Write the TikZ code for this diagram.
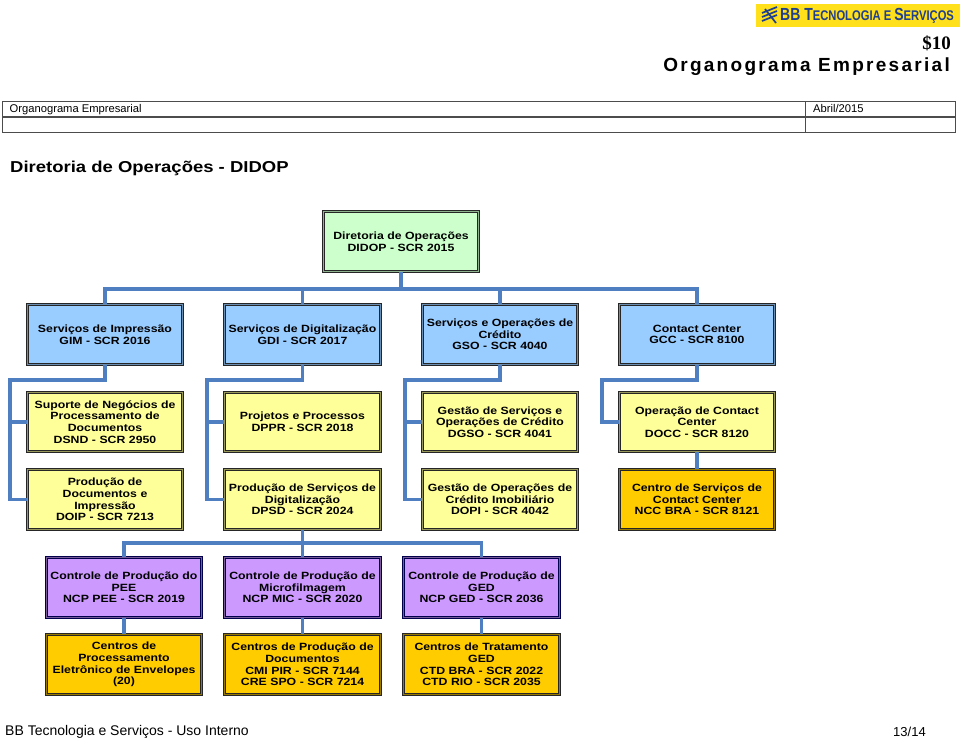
\documentclass[tikz,border=0pt]{standalone}
\usepackage{fontspec}
\setmainfont{Liberation Sans}
\newfontfamily\widefont[FakeStretch=1.17]{Liberation Sans}
\newfontfamily\titlefont[LetterSpace=12]{Liberation Sans}
\newfontfamily\logofont[FakeStretch=0.8]{Liberation Sans}
\newfontfamily\pricefont{Liberation Serif}
\usetikzlibrary{positioning}
\definecolor{linkblue}{HTML}{4F7FC0}
\definecolor{logoblue}{HTML}{1F3F8F}
\definecolor{logoyellow}{HTML}{FFE01A}
\definecolor{topgreen}{HTML}{CCFFCC}
\definecolor{mgrblue}{HTML}{99CCFF}
\definecolor{divyellow}{HTML}{FFFF99}
\definecolor{ctrorange}{HTML}{FFCC00}
\definecolor{ctlpurple}{HTML}{CC99FF}
\tikzset{
    unit/.style = {rectangle, draw=#1, double, double distance=1.1pt, line width=0.85pt, minimum width=155.6pt, minimum height=59.6pt, inner sep=0pt, text width=154pt, align=center, font=\widefont\bfseries\fontsize{10.5}{11.7}\selectfont},
    unit/.default = black!85,
    link/.style = {draw=linkblue, line width=3.4pt}
}

\begin{document}
\begin{tikzpicture}[
    x=1pt, y=-1pt,
    topunit/.style={unit, fill=topgreen, double=topgreen!70!black},
    manager/.style={unit, fill=mgrblue, double=mgrblue!70!black},
    division/.style={unit, fill=divyellow, double=divyellow!60!black},
    center/.style={unit, fill=ctrorange, double=ctrorange!60!black},
    control/.style={unit=black!70!blue, fill=ctlpurple, double=ctlpurple!60!black}
]
    \useasboundingbox (0,0) rectangle (960,741);

    % Logo strip
    \fill[logoyellow] (756,4) rectangle (960,27);
    \node[anchor=west, inner sep=0pt, text=logoblue, font=\logofont\bfseries] (logo) at (780,16) {\fontsize{17.5}{17.5}\selectfont BB T\fontsize{14}{14}\selectfont ECNOLOGIA E \fontsize{17.5}{17.5}\selectfont S\fontsize{14}{14}\selectfont ERVIÇOS};
    \foreach \s in {0,4,8} {
        \draw[logoblue, line width=1.7pt] (762,13+\s) -- (777,7+\s);
    }
    \draw[logoblue, line width=1.7pt] (765,9) -- (776,23);

    % Page title
    \node[anchor=east, inner sep=0pt, font=\fontsize{19}{19}\selectfont\bfseries\pricefont] (amount) at (951,43) {\$10};
    \node[anchor=east, inner sep=0pt, font=\fontsize{19}{19}\selectfont\bfseries\titlefont] (title) at (950,67) {Organograma Empresarial};

    % Header table
    \draw[line width=0.9pt, black!70] (2,101.5) rectangle (955,132);
    \draw[line width=1.2pt, black!70] (2,117) -- (955,117);
    \draw[line width=0.9pt, black!70] (805,101.5) -- (805,132);
    \node[anchor=base west, inner sep=0pt, font=\fontsize{11.2}{12}\selectfont] (doc) at (9.5,113) {Organograma Empresarial};
    \node[anchor=base west, inner sep=0pt, font=\fontsize{11.2}{12}\selectfont] (date) at (813,113) {Abril/2015};

    \node[anchor=west, inner sep=0pt, font=\widefont\bfseries\fontsize{15.8}{15.8}\selectfont] (heading) at (10,168.5) {Diretoria de Operações - DIDOP};

    % Directorate
    \node[topunit] (didop) at (401,241.5) {Diretoria de Operações\\DIDOP - SCR 2015};

    % Managers
    \node[manager] (gim) at (105,334.5) {Serviços de Impressão\\GIM - SCR 2016};
    \node[manager] (gdi) at (302.5,334.5) {Serviços de Digitalização\\GDI - SCR 2017};
    \node[manager] (gso) at (500,334.5) {Serviços e Operações de\\Crédito\\GSO - SCR 4040};
    \node[manager] (gcc) at (697,334.5) {Contact Center\\GCC - SCR 8100};

    % Divisions
    \node[division] (dsnd) at (105,422) {Suporte de Negócios de\\Processamento de\\Documentos\\DSND - SCR 2950};
    \node[division] (dppr) at (302.5,422) {Projetos e Processos\\DPPR - SCR 2018};
    \node[division] (dgso) at (500,422) {Gestão de Serviços e\\Operações de Crédito\\DGSO - SCR 4041};
    \node[division] (docc) at (697,422) {Operação de Contact\\Center\\DOCC - SCR 8120};

    \node[division] (doip) at (105,499.5) {Produção de\\Documentos e\\Impressão\\DOIP - SCR 7213};
    \node[division] (dpsd) at (302.5,499.5) {Produção de Serviços de\\Digitalização\\DPSD - SCR 2024};
    \node[division] (dopi) at (500,499.5) {Gestão de Operações de\\Crédito Imobiliário\\DOPI - SCR 4042};
    \node[center] (ncc) at (697,499.5) {Centro de Serviços de\\Contact Center\\NCC BRA - SCR 8121};

    % Production control
    \node[control] (ncppee) at (124,587.5) {Controle de Produção do\\PEE\\NCP PEE - SCR 2019};
    \node[control] (ncpmic) at (302.5,587.5) {Controle de Produção de\\Microfilmagem\\NCP MIC - SCR 2020};
    \node[control] (ncpged) at (481.5,587.5) {Controle de Produção de\\GED\\NCP GED - SCR 2036};

    % Centers
    \node[center] (cpe) at (124,664.5) {Centros de\\Processamento\\Eletrônico de Envelopes\\(20)};
    \node[center] (cpd) at (302.5,664.5) {Centros de Produção de\\Documentos\\CMI PIR - SCR 7144\\CRE SPO - SCR 7214};
    \node[center] (ctd) at (481.5,664.5) {Centros de Tratamento\\GED\\CTD BRA - SCR 2022\\CTD RIO - SCR 2035};

    % Connector anchors
    \coordinate (busTop) at (401,289);
    \coordinate (busPrd) at (302.5,543);
    \coordinate (spineIm) at (10,380);
    \coordinate (spineDg) at (207,380);
    \coordinate (spineCr) at (405,380);
    \coordinate (spineCc) at (602,380);

    % Connectors
    \draw[link] (didop.south) -- (busTop);
    \draw[link] (gim.north) |- (busTop) -| (gcc.north);
    \draw[link] (gdi.north) -- (gdi.north |- busTop);
    \draw[link] (gso.north) -- (gso.north |- busTop);

    \draw[link] (gim.south) |- (spineIm) |- (doip.west);
    \draw[link] (spineIm |- dsnd.west) -- (dsnd.west);
    \draw[link] (gdi.south) |- (spineDg) |- (dpsd.west);
    \draw[link] (spineDg |- dppr.west) -- (dppr.west);
    \draw[link] (gso.south) |- (spineCr) |- (dopi.west);
    \draw[link] (spineCr |- dgso.west) -- (dgso.west);
    \draw[link] (gcc.south) |- (spineCc) |- (docc.west);
    \draw[link] (docc.south) -- (ncc.north);

    \draw[link] (dpsd.south) -- (ncpmic.north);
    \draw[link] (ncppee.north) |- (busPrd) -| (ncpged.north);
    \foreach \upper/\lower in {ncppee/cpe, ncpmic/cpd, ncpged/ctd} {
        \draw[link] (\upper.south) -- (\lower.north);
    }

    % Footer
    \node[anchor=west, inner sep=0pt, font=\fontsize{14}{14}\selectfont] (footer) at (5,731.5) {BB Tecnologia e Serviços - Uso Interno};
    \node[anchor=west, inner sep=0pt, font=\fontsize{13}{13}\selectfont] (pageno) at (893,731.5) {13/14};
\end{tikzpicture}
\end{document}
